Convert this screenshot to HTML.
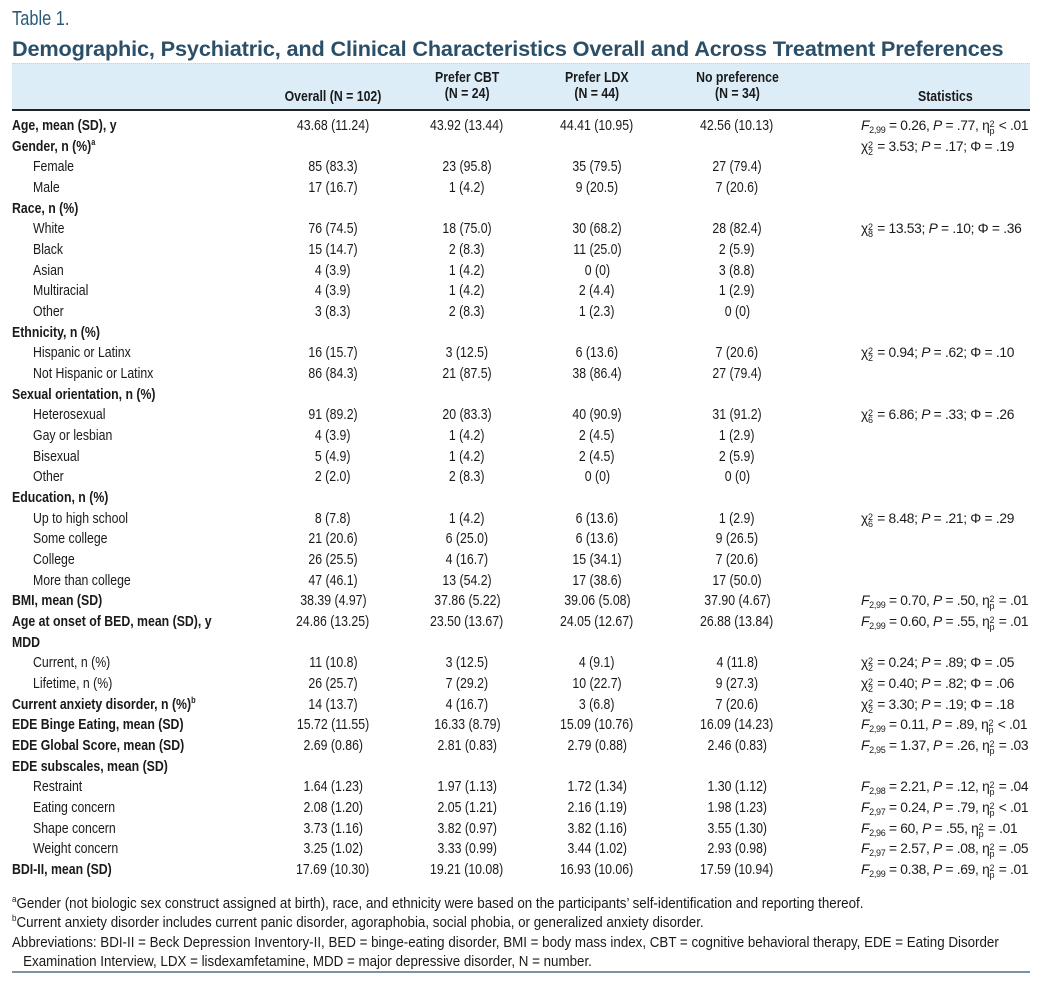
<!DOCTYPE html>
<html><head><meta charset="utf-8">
<style>
body{margin:0;background:#fff;width:1042px;height:986px;position:relative;overflow:hidden;font-family:"Liberation Sans",sans-serif;color:#1a1a1a}
.a{position:absolute;white-space:nowrap;line-height:16px;height:16px}
.c{font-size:15px;display:inline-block;transform:scaleX(.82)}
.fn{font-size:15px;display:inline-block;transform:scaleX(.89)}
.b{font-weight:bold}
.st{font-size:13.8px;letter-spacing:-0.3px}
.st sub{font-size:9px;vertical-align:baseline;position:relative;top:3px;line-height:0}
.sp{font-size:9px;vertical-align:baseline;position:relative;top:-6px;line-height:0}
.ss{display:inline-block;vertical-align:-4px;line-height:7px;font-size:9px;text-align:left;margin-right:1px}
</style></head><body>
<div class="a" style="left:12px;top:9px;color:#2b5a78;height:20px;line-height:20px"><span class="c" style="transform-origin:left;font-size:20px">Table 1.</span></div>
<div class="a" style="left:12px;top:36px;color:#2b4f68;font-size:21.7px;font-weight:bold;letter-spacing:-0.15px;height:26px;line-height:26px">Demographic, Psychiatric, and Clinical Characteristics Overall and Across Treatment Preferences</div>
<div style="position:absolute;left:12px;top:63px;width:1018px;height:46px;background:#dcedf7;border-top:1px dotted #b8d4e6"></div>
<div style="position:absolute;left:12px;top:109px;width:1018px;height:2px;background:#222"></div>
<div id="tbl"></div>
<div style="position:absolute;left:12px;top:971px;width:1018px;height:2px;background:#7d93a3"></div>
<script>
const labels=["Age, mean (SD), y","Gender, n (%)<span class='sp'>a</span>","Female","Male","Race, n (%)","White","Black","Asian","Multiracial","Other","Ethnicity, n (%)","Hispanic or Latinx","Not Hispanic or Latinx","Sexual orientation, n (%)","Heterosexual","Gay or lesbian","Bisexual","Other","Education, n (%)","Up to high school","Some college","College","More than college","BMI, mean (SD)","Age at onset of BED, mean (SD), y","MDD","Current, n (%)","Lifetime, n (%)","Current anxiety disorder, n (%)<span class='sp'>b</span>","EDE Binge Eating, mean (SD)","EDE Global Score, mean (SD)","EDE subscales, mean (SD)","Restraint","Eating concern","Shape concern","Weight concern","BDI-II, mean (SD)"];
const bold=[1,1,0,0,1,0,0,0,0,0,1,0,0,1,0,0,0,0,1,0,0,0,0,1,1,1,0,0,1,1,1,1,0,0,0,0,1];
const overall=["43.68 (11.24)","","85 (83.3)","17 (16.7)","","76 (74.5)","15 (14.7)","4 (3.9)","4 (3.9)","3 (8.3)","","16 (15.7)","86 (84.3)","","91 (89.2)","4 (3.9)","5 (4.9)","2 (2.0)","","8 (7.8)","21 (20.6)","26 (25.5)","47 (46.1)","38.39 (4.97)","24.86 (13.25)","","11 (10.8)","26 (25.7)","14 (13.7)","15.72 (11.55)","2.69 (0.86)","","1.64 (1.23)","2.08 (1.20)","3.73 (1.16)","3.25 (1.02)","17.69 (10.30)"];
const cbt=["43.92 (13.44)","","23 (95.8)","1 (4.2)","","18 (75.0)","2 (8.3)","1 (4.2)","1 (4.2)","2 (8.3)","","3 (12.5)","21 (87.5)","","20 (83.3)","1 (4.2)","1 (4.2)","2 (8.3)","","1 (4.2)","6 (25.0)","4 (16.7)","13 (54.2)","37.86 (5.22)","23.50 (13.67)","","3 (12.5)","7 (29.2)","4 (16.7)","16.33 (8.79)","2.81 (0.83)","","1.97 (1.13)","2.05 (1.21)","3.82 (0.97)","3.33 (0.99)","19.21 (10.08)"];
const ldx=["44.41 (10.95)","","35 (79.5)","9 (20.5)","","30 (68.2)","11 (25.0)","0 (0)","2 (4.4)","1 (2.3)","","6 (13.6)","38 (86.4)","","40 (90.9)","2 (4.5)","2 (4.5)","0 (0)","","6 (13.6)","6 (13.6)","15 (34.1)","17 (38.6)","39.06 (5.08)","24.05 (12.67)","","4 (9.1)","10 (22.7)","3 (6.8)","15.09 (10.76)","2.79 (0.88)","","1.72 (1.34)","2.16 (1.19)","3.82 (1.16)","3.44 (1.02)","16.93 (10.06)"];
const nopref=["42.56 (10.13)","","27 (79.4)","7 (20.6)","","28 (82.4)","2 (5.9)","3 (8.8)","1 (2.9)","0 (0)","","7 (20.6)","27 (79.4)","","31 (91.2)","1 (2.9)","2 (5.9)","0 (0)","","1 (2.9)","9 (26.5)","7 (20.6)","17 (50.0)","37.90 (4.67)","26.88 (13.84)","","4 (11.8)","9 (27.3)","7 (20.6)","16.09 (14.23)","2.46 (0.83)","","1.30 (1.12)","1.98 (1.23)","3.55 (1.30)","2.93 (0.98)","17.59 (10.94)"];
const eta="η<span class='ss'>2<br>p</span>";
const F=(d,r)=>"<i>F</i><sub>2,"+d+"</sub> = "+r;
const X=(d,r)=>"χ<span class='ss'>2<br>"+d+"</span> = "+r;
const stats=[F(99,"0.26, <i>P</i> = .77, "+eta+" &lt; .01"),X(2,"3.53; <i>P</i> = .17; Φ = .19"),"","","",X(8,"13.53; <i>P</i> = .10; Φ = .36"),"","","","","",X(2,"0.94; <i>P</i> = .62; Φ = .10"),"","",X(6,"6.86; <i>P</i> = .33; Φ = .26"),"","","","",X(6,"8.48; <i>P</i> = .21; Φ = .29"),"","","",F(99,"0.70, <i>P</i> = .50, "+eta+" = .01"),F(99,"0.60, <i>P</i> = .55, "+eta+" = .01"),"",X(2,"0.24; <i>P</i> = .89; Φ = .05"),X(2,"0.40; <i>P</i> = .82; Φ = .06"),X(2,"3.30; <i>P</i> = .19; Φ = .18"),F(99,"0.11, <i>P</i> = .89, "+eta+" &lt; .01"),F(95,"1.37, <i>P</i> = .26, "+eta+" = .03"),"",F(98,"2.21, <i>P</i> = .12, "+eta+" = .04"),F(97,"0.24, <i>P</i> = .79, "+eta+" &lt; .01"),F(96,"60, <i>P</i> = .55, "+eta+" = .01"),F(97,"2.57, <i>P</i> = .08, "+eta+" = .05"),F(99,"0.38, <i>P</i> = .69, "+eta+" = .01")];
const tbl=document.getElementById('tbl');
function cell(html,x,y,align,cls){
  const d=document.createElement('div');
  d.className='a';
  if(align==='c'){d.style.left=(x-100)+'px';d.style.width='200px';d.style.textAlign='center';}
  else d.style.left=x+'px';
  d.style.top=y+'px';
  d.innerHTML="<span class='"+cls+"' style='transform-origin:"+(align==='c'?'center':'left')+"'>"+html+"</span>";
  tbl.appendChild(d);return d;
}
let e;
e=cell("Overall (N = 102)",333,89,'c','c b');


e=cell("Prefer CBT<br>(N = 24)",467,70,'c','c b');


e=cell("Prefer LDX<br>(N = 44)",597,70,'c','c b');


e=cell("No preference<br>(N = 34)",737,70,'c','c b');


e=cell("Statistics",945,89,'c','c b');


const pitch=20.67;
for(let i=0;i<labels.length;i++){
  const y=118+i*pitch;
  e=cell(labels[i],bold[i]?12:33,y,'l','c'+(bold[i]?' b':''));
  
  
  const vals=[overall[i],cbt[i],ldx[i],nopref[i]];const xs=[333,467,597,737];
  for(let j=0;j<4;j++){ if(!vals[j])continue;
    e=cell(vals[j],xs[j],y,'c','c');
    
    
  }
  if(stats[i]){
    e=cell(stats[i],861,y,'l','st');
    
    
  }
}
const notes=["<span class='sp'>a</span>Gender (not biologic sex construct assigned at birth), race, and ethnicity were based on the participants’ self-identification and reporting thereof.","<span class='sp'>b</span>Current anxiety disorder includes current panic disorder, agoraphobia, social phobia, or generalized anxiety disorder.","Abbreviations: BDI-II = Beck Depression Inventory-II, BED = binge-eating disorder, BMI = body mass index, CBT = cognitive behavioral therapy, EDE = Eating Disorder","&nbsp;&nbsp;&nbsp;Examination Interview, LDX = lisdexamfetamine, MDD = major depressive disorder, N = number."];
for(let k=0;k<notes.length;k++){
  e=cell(notes[k],12,896+k*19.3,'l','fn');
  
  
}
</script>
</body></html>
